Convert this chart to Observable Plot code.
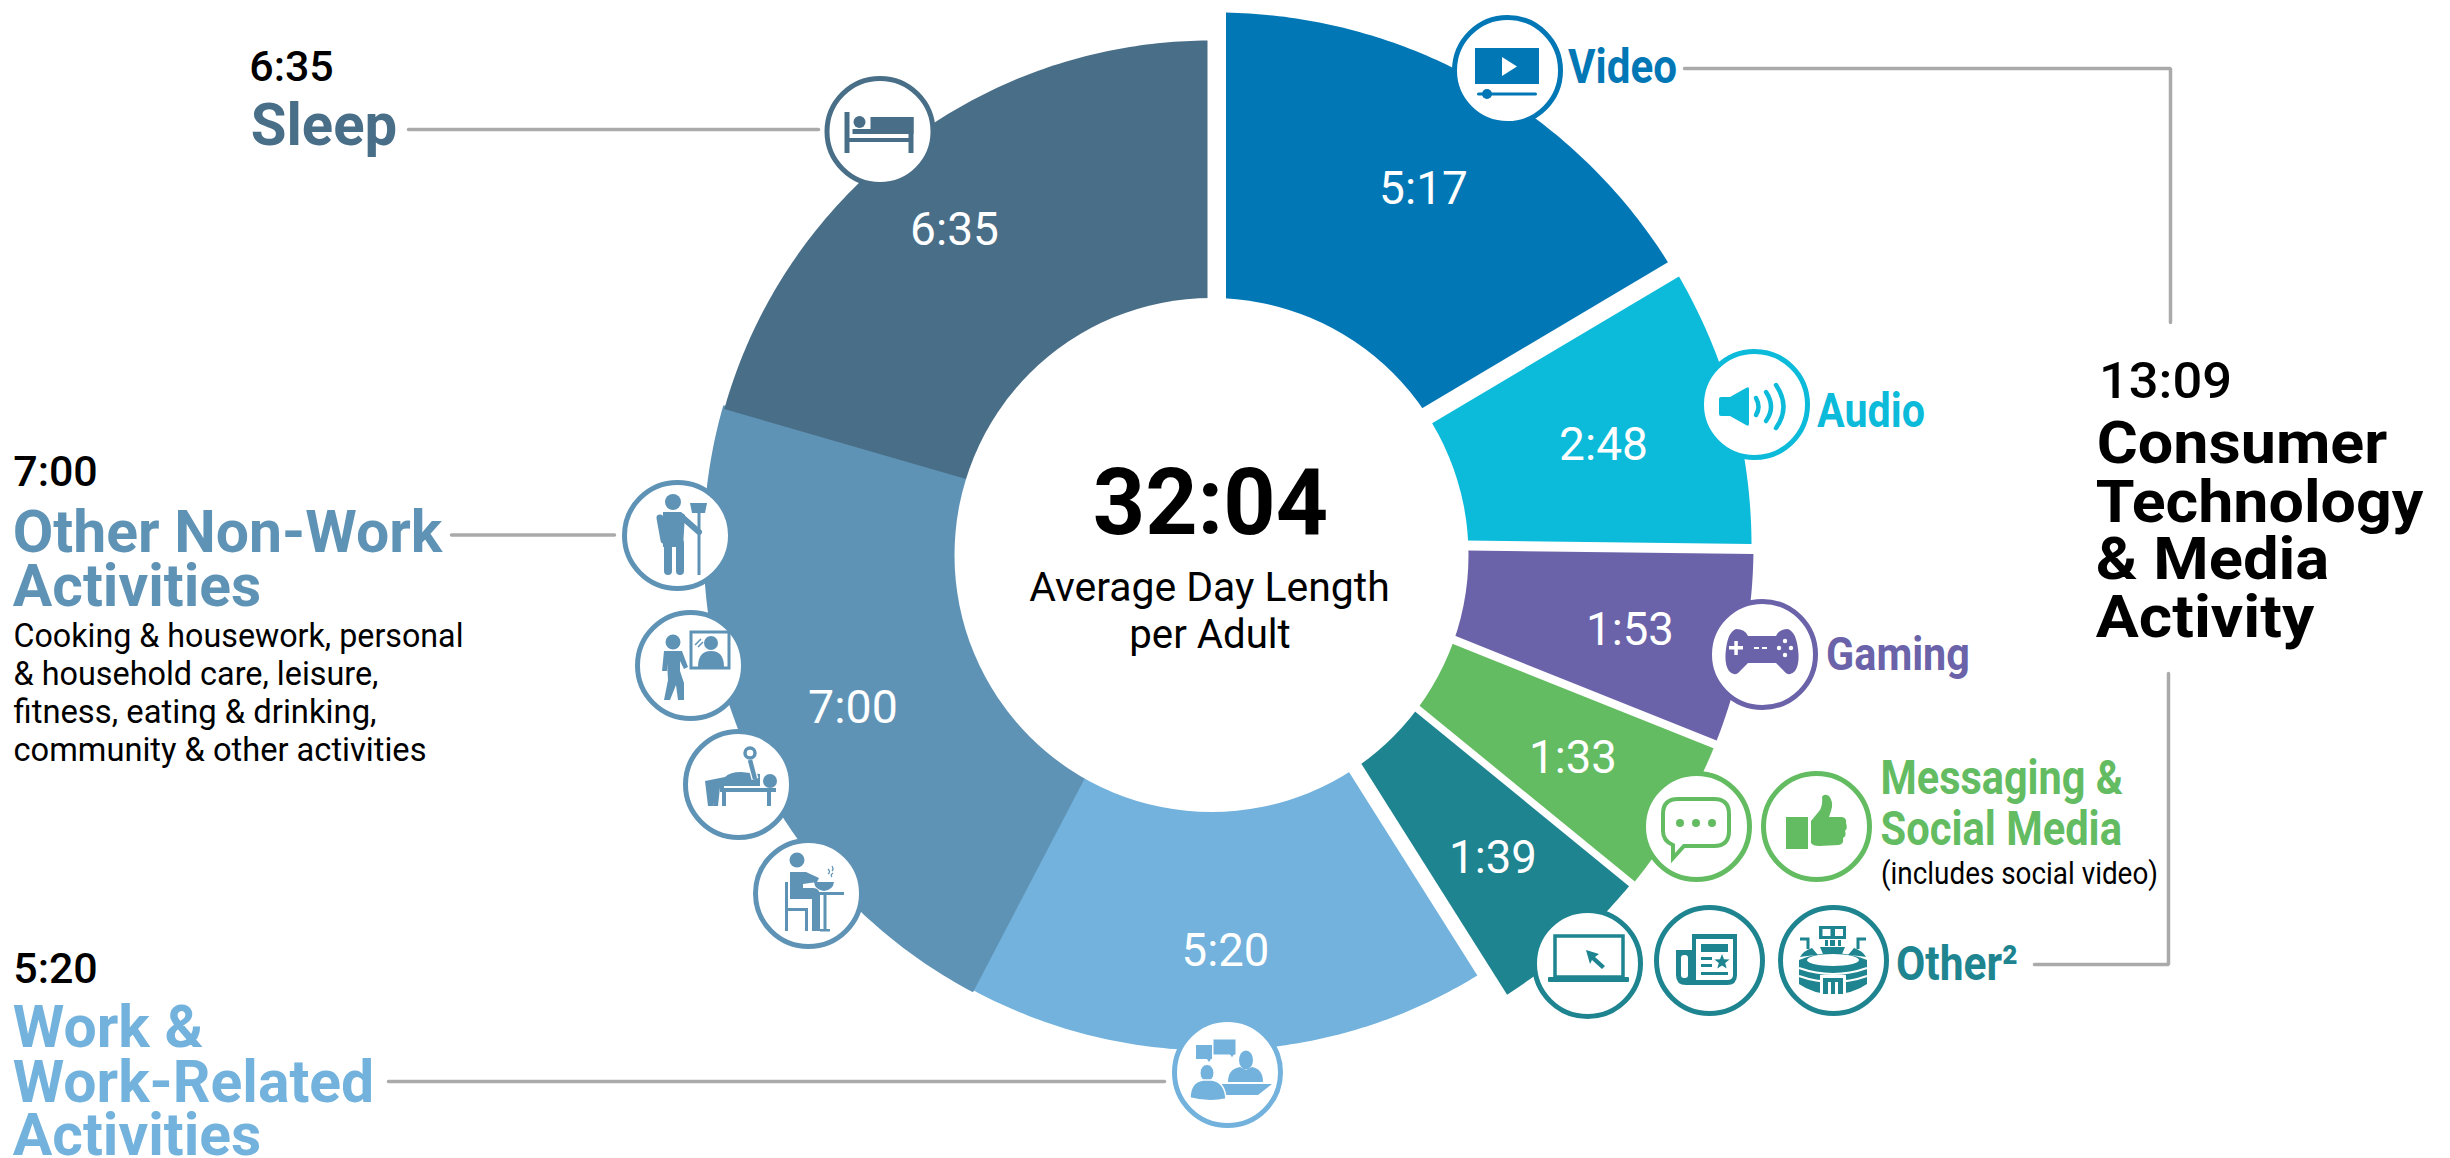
<!DOCTYPE html>
<html>
<head>
<meta charset="utf-8">
<style>html,body{margin:0;padding:0;background:#fff}svg{display:block;max-width:none}</style>
<script src="https://cdn.jsdelivr.net/npm/d3@7"></script>
<script src="https://cdn.jsdelivr.net/npm/@observablehq/plot@0.6"></script>
</head>
<body>
<div id="chart"></div>
<script>
// ---------- data ----------
const sliceNames   = ["Video","Audio","Gaming","Messaging & Social Media","Other","Work & Work-Related Activities","Other Non-Work Activities","Sleep"];
const sliceMinutes = [317,168,113,93,99,320,420,395];
const sliceTimes   = ["5:17","2:48","1:53","1:33","1:39","5:20","7:00","6:35"];
const totalLabel   = "32:04";
const centerLines  = ["Average Day Length","per Adult"];
const mediaTotal   = "13:09";
const mediaLines   = ["Consumer","Technology","& Media","Activity"];
const nonWorkNote  = ["Cooking & housework, personal","& household care, leisure,","fitness, eating & drinking,","community & other activities"];

// ---------- styles and layout ----------
const palette = ["#0277b5","#0cbada","#6a63a9","#64bc62","#1e8490","#72b2dc","#5f93b6","#496e87"];
const V=palette[0],A=palette[1],G=palette[2],M=palette[3],O=palette[4],W=palette[5],N=palette[6],S=palette[7];
const sliceGeom = [ // centre x, centre y, outer radius, half gap at start and at end
  [1216,545,533,9.5,13],[1216,545,535,5,8],[1218,545,535,2,4.2],[1218,545,535,4.2,3],
  [1216,545,535,3,6],[1212,545,505,5.5,-6],[1208,545,505,1.8,0],[1210,545,505,-4,3]
];
const angle = d3.scaleLinear().domain([0,d3.sum(sliceMinutes)]).range([0,2*Math.PI]);
const cum = d3.cumsum(sliceMinutes);
const slicePoints = sliceNames.flatMap((name,i)=>{
  const a0=angle(i?cum[i-1]:0), a1=angle(cum[i]);
  const [cx,cy,R,g0,g1]=sliceGeom[i], r0=150;
  const pts=[];
  const aO0=a0+Math.asin(g0/R), aO1=a1-Math.asin(g1/R);
  const n=Math.ceil((aO1-aO0)*90);
  for(let k=0;k<=n;k++){const a=aO0+(aO1-aO0)*k/n;pts.push({name,color:palette[i],x:cx+R*Math.sin(a),y:cy-R*Math.cos(a)});}
  for(const a of [a1-Math.asin(g1/r0),a0+Math.asin(g0/r0)])pts.push({name,color:palette[i],x:cx+r0*Math.sin(a),y:cy-r0*Math.cos(a)});
  return pts;
});

// ---------- text rows: text, left, right, baseline ----------
const textGroups = [
 {size:46,weight:400,fill:"#fff",rows:[
   [sliceTimes[0],1380,1466,203],[sliceTimes[1],1560,1646,459],[sliceTimes[2],1587,1672,644],
   [sliceTimes[3],1530,1615,772],[sliceTimes[4],1450,1535,872],[sliceTimes[5],1182.5,1267.5,965],
   [sliceTimes[6],809,896,722],[sliceTimes[7],911,997,244]]},
 {size:92,weight:700,fill:"#000",rows:[[totalLabel,1095,1325,533]]},
 {size:40,weight:400,fill:"#000",rows:[[centerLines[0],1030,1388,600],[centerLines[1],1130,1289,647]]},
 {size:42,weight:500,fill:"#000",rows:[[sliceTimes[7],250,332,80],[sliceTimes[6],14,96,485.5],[sliceTimes[5],14,96,982.5]]},
 {size:59,weight:700,fill:S,rows:[["Sleep",252,395,144]]},
 {size:59,weight:700,fill:N,rows:[["Other Non-Work",14,440,551],["Activities",14,259,605]]},
 {size:59,weight:700,fill:W,rows:[["Work &",14,201,1046.5],["Work-Related",14,372,1101],["Activities",14,259,1154]]},
 {size:33,weight:400,fill:"#000",rows:[[nonWorkNote[0],14,462,646],[nonWorkNote[1],14,377,684],[nonWorkNote[2],14,375,722.5],[nonWorkNote[3],14,425,760.5]]},
 {size:49,weight:700,fill:V,rows:[["Video",1569,1675,82]]},
 {size:49,weight:700,fill:A,rows:[["Audio",1818,1923,426]]},
 {size:47,weight:700,fill:G,rows:[["Gaming",1827,1968,669]]},
 {size:48,weight:700,fill:M,rows:[["Messaging &",1881.5,2121,793],["Social Media",1881.5,2120,844]]},
 {size:32,weight:400,fill:"#000",rows:[["(includes social video)",1881.5,2156.5,883]]},
 {size:49,weight:700,fill:O,rows:[["Other²",1897,2016,979]]},
 {size:50,weight:500,fill:"#000",rows:[[mediaTotal,2100,2230,397]]},
 {size:60,weight:700,fill:"#000",rows:[[mediaLines[0],2098,2385,462],[mediaLines[1],2097,2421,521],[mediaLines[2],2097,2327,578.5],[mediaLines[3],2097,2312,636]]}
];
const textMarks = textGroups.map(g=>Plot.text(g.rows,{
  x:d=>d[1]-g.size*0.03,y:d=>d[3],text:d=>d[0],textAnchor:"start",lineAnchor:"bottom",
  fontFamily:"Roboto",fontSize:g.size,fontWeight:g.weight,fill:g.fill,
  render:(index,scales,values,dims,ctx,next)=>{
    const el=next(index,scales,values,dims,ctx);
    d3.select(el).selectAll("text").each(function(_,i){
      const d=g.rows[index[i]];
      this.setAttribute("textLength",d[2]-d[1]+g.size*0.06);
      this.setAttribute("lengthAdjust","spacingAndGlyphs");
    });
    return el;
  }
}));

// ---------- connector lines ----------
const connectors = [
 [[408,129],[818,129]],
 [[451,534.5],[614,534.5]],
 [[388,1081],[1164,1081]],
 [[1684,68],[2170,68],[2170,322]],
 [[2168,673],[2168,964],[2034,964]]
].flatMap((line,i)=>line.map(p=>({i,x:p[0],y:p[1]})));

// ---------- icons ----------
const star=(cx,cy,r)=>{let s="";for(let k=0;k<10;k++){const q=k%2?r*.42:r,a=k*Math.PI/5;s+=(k?"L":"M")+(cx+q*Math.sin(a)).toFixed(1)+","+(cy-q*Math.cos(a)).toFixed(1);}return s+"Z";};
const person=(c)=>`stroke="${c}" stroke-linecap="round" fill="none"`;
const icons = [
 {x:1507,y:70,c:V,g:c=>`<rect x="-32" y="-22" width="64" height="36" fill="${c}"/><path d="M-5,-13L10,-3.5L-5,6Z" fill="#fff"/><rect x="-30" y="22.5" width="60" height="3" rx="1.5" fill="${c}"/><circle cx="-20" cy="24" r="5" fill="${c}"/>`},
 {x:1754,y:404,c:A,g:c=>`<path d="M-35,-5Q-35,-7 -33,-7H-24L-8,-16Q-5,-18 -5,-15V20Q-5,23 -8,21L-24,12H-33Q-35,12 -35,10Z" fill="${c}"/><g ${person(c)} stroke-width="4.5"><path d="M2,-6Q7,3 2,11"/><path d="M12,-12Q22,3 12,17"/><path d="M22,-19Q37,3 22,24"/></g>`},
 {x:1762,y:654,c:G,g:c=>`<path d="M-26,-25Q-17,-25 -14,-18L14,-18Q17,-25 26,-25Q34,-22 36,-5Q38,10 33,17Q27,24 21,16L14,9L-14,9L-21,16Q-27,24 -33,17Q-38,10 -36,-5Q-34,-22 -26,-25Z" fill="${c}"/><g fill="#fff"><rect x="-33" y="-8" width="14" height="3.5"/><rect x="-27.7" y="-13" width="3.5" height="14"/><rect x="-8" y="-7" width="5" height="2"/><rect x="0" y="-7" width="5" height="2"/><circle cx="23" cy="-13" r="2.2"/><circle cx="17" cy="-6" r="2.2"/><circle cx="29" cy="-6" r="2.2"/><circle cx="23" cy="1" r="2.2"/></g>`},
 {x:1696,y:826,c:M,g:c=>`<path d="M-18,-27H18Q33,-27 33,-12V5Q33,20 18,20H-12L-23,32V19Q-33,15 -33,5V-12Q-33,-27 -18,-27Z" fill="none" stroke="${c}" stroke-width="4"/><circle cx="-16" cy="-3" r="4" fill="${c}"/><circle cx="0" cy="-3" r="4" fill="${c}"/><circle cx="16" cy="-3" r="4" fill="${c}"/>`},
 {x:1816,y:826,c:M,g:c=>`<rect x="-30" y="-9" width="22" height="32" fill="${c}"/><path d="M-5,-5L4,-16Q7,-22 6,-29Q8,-33 13,-30Q18,-24 15,-15L13,-9L26,-9Q31,-8 30,-3Q32,2 29,5Q31,10 27,12Q28,18 23,19L3,20Q-3,20 -5,17Z" fill="${c}"/>`},
 {x:1587,y:963,c:O,g:c=>`<rect x="-32" y="-27" width="68" height="41" fill="none" stroke="${c}" stroke-width="3.5"/><rect x="-39" y="14" width="81" height="5" rx="1" fill="${c}"/><path d="M-1,-13L12,-9L8,-6L18,3L15,6L5,-3L3,1Z" fill="${c}"/>`},
 {x:1709,y:960,c:O,g:c=>`<path d="M-17,-26H28V15Q28,25 18,25H-23Q-33,25 -33,15V-10H-17Z" fill="${c}"/><rect x="-28" y="-5" width="7" height="23" rx="3" fill="#fff"/><path d="M-13,-21H24V15Q24,20 18,20H-13Z" fill="#fff"/><rect x="-8" y="-16" width="27" height="8" fill="${c}"/><rect x="-8" y="-3" width="11" height="3" fill="${c}"/><rect x="-8" y="4" width="11" height="3" fill="${c}"/><rect x="-8" y="12" width="27" height="3" fill="${c}"/><path d="${star(13,2,8)}" fill="${c}"/>`},
 {x:1833,y:960,c:O,g:c=>`<rect x="-14" y="-34" width="27" height="13" fill="${c}"/><rect x="-10.5" y="-31" width="8" height="7" fill="#fff"/><rect x="2" y="-31" width="8" height="7" fill="#fff"/><rect x="-8" y="-20" width="3" height="6" fill="${c}"/><rect x="-3" y="-20" width="5" height="6" fill="${c}"/><rect x="5" y="-20" width="3" height="6" fill="${c}"/><path d="M-33,-21H-25V-11" fill="none" stroke="${c}" stroke-width="3"/><path d="M33,-21H25V-11" fill="none" stroke="${c}" stroke-width="3"/><path d="M-33,-3Q-30,-9 -21,-12L-15,-5Q-28,-4 -33,-3ZM-13,-13H12L9,-6H-10ZM33,-3Q30,-9 21,-12L15,-5Q28,-4 33,-3Z" fill="${c}"/><path d="M-34,0Q0,-14 34,0V24Q20,34 0,34Q-20,34 -34,24Z" fill="${c}"/><ellipse cx="0" cy="0" rx="26" ry="6" fill="#fff"/><g fill="none" stroke="#fff" stroke-width="2.2"><path d="M-34,8Q0,20 34,8"/><path d="M-34,16Q0,28 34,16"/></g><rect x="-13" y="15" width="26" height="19" fill="#fff"/><path d="M-10,18H10V34H5V22H2V34H-2V22H-5V34H-10Z" fill="${c}"/>`},
 {x:879.5,y:131,c:S,g:c=>`<rect x="-35" y="-19" width="5" height="41" fill="${c}"/><rect x="29" y="-14" width="5" height="36" fill="${c}"/><circle cx="-20" cy="-9" r="6" fill="${c}"/><path d="M-27,-2H-9V-14H34V3H-27Z" fill="${c}"/><rect x="-32" y="7" width="64" height="4" fill="${c}"/>`},
 {x:677,y:535,c:N,g:c=>`<circle cx="-4" cy="-33" r="8" fill="${c}"/><path d="M-14,-23H4L8,-20L6,12H-14Z" fill="${c}"/><g ${person(c)}><path d="M-17,-17L-13,5" stroke-width="7"/><path d="M5,-18L22,-3" stroke-width="6"/><path d="M-9,8V36" stroke-width="8"/><path d="M3,8V36" stroke-width="8"/></g><path d="M20.5,-24H23.5V40H20.5Z" fill="${c}"/><path d="M13,-32H30L28,-22H15Z" fill="${c}"/>`},
 {x:690,y:665,c:N,g:c=>`<circle cx="-17" cy="-23" r="7.5" fill="${c}"/><path d="M-26,-14H-8L-2,2L-6,4L-10,-4V6L-6,18L-6,35H-12L-14,20L-20,35H-26L-22,15L-23,-2V6H-28Z" fill="${c}"/><rect x="1" y="-33" width="38" height="36" fill="#fff" stroke="${c}" stroke-width="3"/><circle cx="21" cy="-22" r="7" fill="${c}"/><path d="M8,2Q8,-14 21,-14Q34,-14 34,2Z" fill="${c}"/><path d="M5,-20L11,-26M8,-18L13,-23" stroke="${c}" stroke-width="1.5"/>`},
 {x:738,y:784,c:N,g:c=>`<rect x="-18" y="4" width="56" height="4" fill="${c}"/><rect x="-16" y="8" width="4" height="14" fill="${c}"/><rect x="29" y="8" width="4" height="14" fill="${c}"/><circle cx="32" cy="-3" r="7" fill="${c}"/><path d="M-33,-3L-13,-7Q-8,-12 3,-12L22,-10V2H-14V4H-20L-25,22H-31L-30,22Z" fill="${c}"/><path d="M-22,3L-25,22H-20L-18,3Z" fill="${c}"/><path d="M12,-24L17,-5" stroke="#fff" stroke-width="7"/><path d="M12,-24L17,-5" stroke="${c}" stroke-width="4.5"/><circle cx="12" cy="-31" r="5" fill="#fff" stroke="${c}" stroke-width="3.5"/>`},
 {x:808,y:893,c:N,g:c=>`<circle cx="-11" cy="-33" r="7.5" fill="${c}"/><path d="M-18,-21H-2L11,-15L9,-11L-5,-9V-5H5Q12,-5 12,3V38H4V6H-18Z" fill="${c}"/><rect x="-23" y="-11" width="3" height="49" fill="${c}"/><rect x="-22" y="15" width="22" height="3" fill="${c}"/><rect x="-3" y="15" width="3" height="23" fill="${c}"/><rect x="-3" y="-1" width="39" height="3" fill="${c}"/><rect x="15.5" y="0" width="3" height="38" fill="${c}"/><rect x="12" y="36" width="10" height="2.5" fill="${c}"/><path d="M6,-11H26Q25,-3 16,-2Q7,-3 6,-11Z" fill="${c}"/><path d="M20,-24Q23,-21 20,-19M24,-27Q26,-24 24,-22M25,-20Q22,-18 24,-16" fill="none" stroke="${c}" stroke-width="1.3"/>`},
 {x:1227,y:1072,c:W,g:c=>`<path d="M-31,-27H-15V-13H-16L-18,-10L-20,-13H-31Z" fill="${c}"/><path d="M-14,-33H9V-17H7L5,-14L3,-17H-14Z" fill="${c}" stroke="#fff" stroke-width="1"/><ellipse cx="19" cy="-12" rx="7" ry="9.5" fill="${c}"/><path d="M1,10Q1,-3 13,-5L19,-2L25,-5Q36,-3 36,10Z" fill="${c}"/><path d="M-6,12H45L31,23H-1Z" fill="${c}"/><ellipse cx="-20" cy="1" rx="7" ry="8.5" fill="${c}" stroke="#fff" stroke-width="1"/><path d="M-37,26Q-37,10 -24,8H-15Q-2,10 -1,27Q-18,31 -37,26Z" fill="${c}" stroke="#fff" stroke-width="1.5"/>`}
];
const iconGlyphs = (index,scales)=>{
  const g=d3.create("svg:g");
  for(const ic of icons){
    g.append("g").attr("transform",`translate(${scales.x(ic.x)},${scales.y(ic.y)})`).html(ic.g(ic.c));
  }
  return g.node();
};

const chart = Plot.plot({
  width:2450,height:1158,margin:0,
  style:{background:"#fff",overflow:"hidden"},
  x:{domain:[0,2450],range:[0,2450],axis:null},
  y:{domain:[0,1158],range:[0,1158],axis:null},
  marks:[
    Plot.line(slicePoints,{x:"x",y:"y",z:"name",fill:"color",stroke:"none"}),
    Plot.dot([{x:1211,y:554.5}],{x:"x",y:"y",r:257,fill:"#fff",stroke:"none"}),
    Plot.line(connectors,{x:"x",y:"y",z:"i",stroke:"#aaaaaa",strokeWidth:3.5,strokeLinejoin:"miter"}),
    Plot.dot(icons,{x:"x",y:"y",r:53,fill:"#fff",stroke:d=>d.c,strokeWidth:5}),
    iconGlyphs,
    ...textMarks
  ]
});
document.getElementById("chart").appendChild(chart);
</script>
</body>
</html>
